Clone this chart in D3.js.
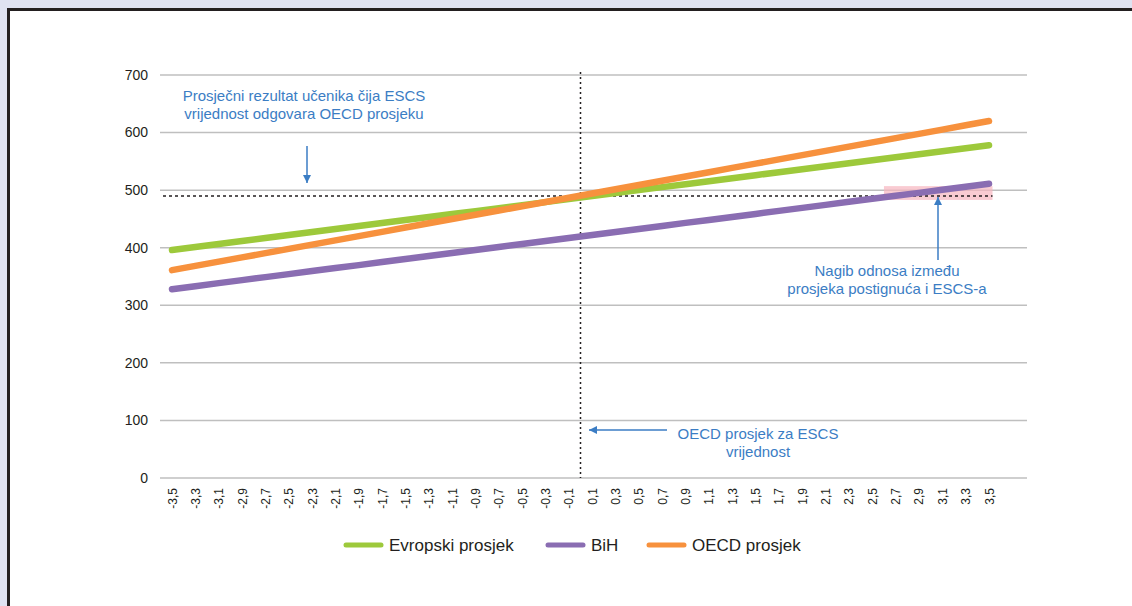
<!DOCTYPE html>
<html>
<head>
<meta charset="utf-8">
<script src="https://cdn.jsdelivr.net/npm/d3@7"></script>
<style>
  body { margin: 0; background: #dfe2f1; }
  svg { display: block; font-family: "Liberation Sans", Arial, sans-serif; }
</style>
</head>
<body>
<svg id="chart"></svg>
<script>
var width = 1132, height = 606

// x categories (ESCS values)
var categories = ["-3,5","-3,3","-3,1","-2,9","-2,7","-2,5","-2,3","-2,1","-1,9","-1,7","-1,5","-1,3","-1,1","-0,9","-0,7","-0,5","-0,3","-0,1",
    "0,1","0,3","0,5","0,7","0,9","1,1","1,3","1,5","1,7","1,9","2,1","2,3","2,5","2,7","2,9","3,1","3,3","3,5"]

var evropski = [396,401.2,406.4,411.6,416.8,422,427.2,432.4,437.6,442.8,448,453.2,458.4,463.6,468.8,474,479.2,484.4,
    489.6,494.8,500,505.2,510.4,515.6,520.8,526,531.2,536.4,541.6,546.8,552,557.2,562.4,567.6,572.8,578]
var bih = [328,333.2,338.5,343.7,348.9,354.1,359.4,364.6,369.8,375.1,380.3,385.5,390.8,396,401.2,406.4,411.7,416.9,
    422.1,427.4,432.6,437.8,443.1,448.3,453.5,458.7,464,469.2,474.4,479.7,484.9,490.1,495.3,500.6,505.8,511]
var oecd = [361,368.4,375.8,383.2,390.6,398,405.4,412.8,420.2,427.6,435,442.4,449.8,457.2,464.6,472,479.4,486.8,
    494.2,501.6,509,516.4,523.8,531.2,538.6,546,553.4,560.8,568.2,575.6,583,590.4,597.8,605.2,612.6,620]

var yTicks = [0, 100, 200, 300, 400, 500, 600, 700]
var oecdScore = 490

var seriesNames = ["Evropski prosjek", "BiH", "OECD prosjek"]
var seriesColors = ["#9dc93b", "#8a6db2", "#f7913d"]

var svg = d3.select("#chart")
    .attr("width", width)
    .attr("height", height)

// white panel with dark frame
svg.append("rect")
    .attr("x", 8.5).attr("y", 9.5)
    .attr("width", width + 20).attr("height", height + 20)
    .attr("fill", "white")
    .attr("stroke", "#231f20")
    .attr("stroke-width", 3)

var plotLeft = 160, plotRight = 1027

var x = d3.scalePoint()
    .domain(categories)
    .range([172, 989])

var y = d3.scaleLinear()
    .domain([0, 700])
    .range([478, 75])

var step = x.step()
var xAt = function(i) { return x(categories[0]) + i * step }   // fractional index
var zeroX = (x("-0,1") + x("0,1")) / 2

// gridlines
svg.append("g")
    .selectAll("line")
    .data(yTicks)
    .enter()
    .append("line")
        .attr("x1", plotLeft)
        .attr("x2", plotRight)
        .attr("y1", function(d) { return y(d) })
        .attr("y2", function(d) { return y(d) })
        .attr("stroke", "#bfbfbf")
        .attr("stroke-width", 1.5)

// y labels
svg.append("g")
    .selectAll("text")
    .data(yTicks)
    .enter()
    .append("text")
        .attr("x", 148)
        .attr("y", function(d) { return y(d) })
        .attr("dy", "0.35em")
        .attr("text-anchor", "end")
        .attr("font-size", 14)
        .attr("fill", "#231f20")
        .text(function(d) { return d })

// x labels, rotated
svg.append("g")
    .selectAll("text")
    .data(categories)
    .enter()
    .append("text")
        .attr("transform", function(d) { return "translate(" + (x(d) + 4.5) + ",488) rotate(-90)" })
        .attr("text-anchor", "end")
        .attr("font-size", 12)
        .attr("fill", "#231f20")
        .text(function(d) { return d })

// pink slope highlight
svg.append("rect")
    .attr("x", xAt(30.5))
    .attr("y", y(507))
    .attr("width", xAt(35.15) - xAt(30.5))
    .attr("height", y(483) - y(507))
    .attr("fill", "#f6b5bf")
    .attr("opacity", 0.7)

// reference dotted lines
svg.append("line")
    .attr("x1", zeroX).attr("x2", zeroX)
    .attr("y1", y(705)).attr("y2", y(0))
    .attr("stroke", "#231f20")
    .attr("stroke-width", 1.5)
    .attr("stroke-dasharray", "2,3")

svg.append("line")
    .attr("x1", 163).attr("x2", xAt(35.15))
    .attr("y1", y(oecdScore)).attr("y2", y(oecdScore))
    .attr("stroke", "#231f20")
    .attr("stroke-width", 1.5)
    .attr("stroke-dasharray", "3,3")

// series lines
var line = d3.line()
    .x(function(d, i) { return x(categories[i]) })
    .y(function(d) { return y(d) })

var series = [evropski, bih, oecd]
series.forEach(function(s, k) {
    svg.append("path")
        .datum(s)
        .attr("d", line)
        .attr("fill", "none")
        .attr("stroke", seriesColors[k])
        .attr("stroke-width", 6.5)
        .attr("stroke-linecap", "round")
})

// annotations
var blue = "#3b7dc4"
svg.append("defs").append("marker")
    .attr("id", "arrow")
    .attr("viewBox", "0 0 10 10")
    .attr("refX", 10).attr("refY", 5)
    .attr("markerWidth", 9).attr("markerHeight", 8)
    .attr("markerUnits", "userSpaceOnUse")
    .attr("orient", "auto")
  .append("path")
    .attr("d", "M0,0 L10,5 L0,10 z")
    .attr("fill", blue)

var notes = [
    { x: 304, y: 101, lines: ["Prosječni rezultat učenika čija ESCS", "vrijednost odgovara OECD prosjeku"] },
    { x: 887, y: 276, lines: ["Nagib odnosa između", "prosjeka postignuća i ESCS-a"] },
    { x: 758, y: 439, lines: ["OECD prosjek za ESCS", "vrijednost"] }
]
notes.forEach(function(n) {
    var t = svg.append("text")
        .attr("text-anchor", "middle")
        .attr("font-size", 15)
        .attr("fill", blue)
    n.lines.forEach(function(l, i) {
        t.append("tspan").attr("x", n.x).attr("y", n.y + i * 17.5).text(l)
    })
})

var arrows = [
    [307, 146, 307, 183],
    [938, 260, 938, 197],
    [667, 430, 589, 430]
]
arrows.forEach(function(a) {
    svg.append("line")
        .attr("x1", a[0]).attr("y1", a[1])
        .attr("x2", a[2]).attr("y2", a[3])
        .attr("stroke", blue)
        .attr("stroke-width", 1.5)
        .attr("marker-end", "url(#arrow)")
})

// legend
var legendX = [346, 548, 649]
var legend = svg.append("g")
seriesNames.forEach(function(name, k) {
    legend.append("line")
        .attr("x1", legendX[k]).attr("x2", legendX[k] + 35)
        .attr("y1", 545).attr("y2", 545)
        .attr("stroke", seriesColors[k])
        .attr("stroke-width", 5)
        .attr("stroke-linecap", "round")
    legend.append("text")
        .attr("x", legendX[k] + 43)
        .attr("y", 545)
        .attr("dy", "0.35em")
        .attr("font-size", 17)
        .attr("fill", "#231f20")
        .text(name)
})
</script>
</body>
</html>
